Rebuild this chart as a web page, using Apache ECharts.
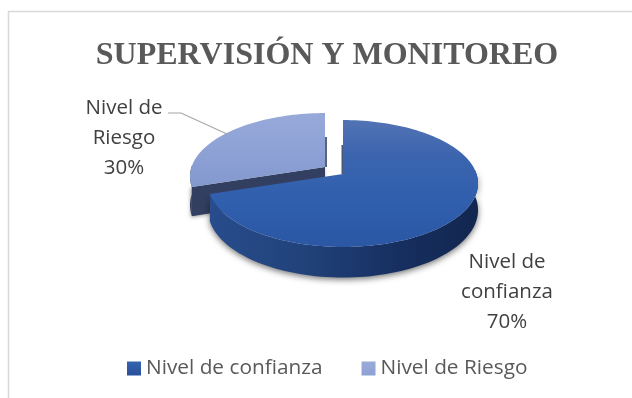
<!DOCTYPE html>
<html>
<head>
<meta charset="utf-8">
<style>html,body{margin:0;padding:0;background:#fff}#c{width:632px;height:398px}</style>
<script src="https://cdn.jsdelivr.net/npm/echarts@6/dist/echarts.min.js"></script>
</head>
<body>
<div id="c"></div>
<script>
const titleText = 'SUPERVISIÓN Y MONITOREO';
const categories = ['Nivel de confianza', 'Nivel de Riesgo'];
const shares = [70, 30];
const labelLines = [['Nivel de', 'confianza'], ['Nivel de', 'Riesgo']];

// layout of the tilted disc
const disc = {rx: 133.5, ry: 62, persp: 0.15, depth: 26};
const apex = [[343, 174], [325, 167]];
const labelPos = [[507, 262], [124, 108]];
const lineH = 30;
const total = shares.reduce((a, b) => a + b, 0);

function project(i, deg, r) {
  const t = deg * Math.PI / 180, u = r * Math.sin(t), v = -r * Math.cos(t), w = 1 - disc.persp * v;
  return {x: apex[i][0] + disc.rx * u / w, y: apex[i][1] + disc.ry * v / w, d: disc.depth / w};
}
function arc(i, a, b) {
  const out = [], n = Math.max(2, Math.ceil(Math.abs(b - a) / 2));
  for (let k = 0; k <= n; k++) out.push(project(i, a + (b - a) * k / n, 1));
  return out;
}
const hGrad = s => ({type: 'linear', x: 0, y: 0, x2: 1, y2: 0, colorStops: s});
const vGrad = s => ({type: 'linear', x: 0, y: 0, x2: 0, y2: 1, colorStops: s});
const topFill = [
  vGrad([{offset: 0, color: '#5273b4'}, {offset: .3, color: '#3a64ae'}, {offset: .65, color: '#305fae'}, {offset: 1, color: '#2b57a4'}]),
  vGrad([{offset: 0, color: '#98a9d9'}, {offset: .5, color: '#8ea2d6'}, {offset: 1, color: '#8398cd'}])
];
const wallFill = [
  hGrad([{offset: 0, color: '#284c8c'}, {offset: .35, color: '#21427a'}, {offset: .7, color: '#172f60'}, {offset: 1, color: '#12264f'}]),
  '#333f60'
];
const legendColor = [
  vGrad([{offset: 0, color: '#3763ae'}, {offset: 1, color: '#27509c'}]),
  vGrad([{offset: 0, color: '#9aabd9'}, {offset: 1, color: '#8da1d4'}])
];

function renderSlice(params, api) {
  const i = params.seriesIndex;
  const before = shares.slice(0, i).reduce((a, b) => a + b, 0);
  const a0 = before / total * 360, a1 = a0 + api.value(0) / total * 360;
  const top = arc(i, a0, a1);
  const c = project(i, 0, 0);
  const children = [];
  const poly = (points, fill, extra) => children.push(Object.assign({type: 'polygon', shape: {points}, style: Object.assign({fill}, extra || {})}));
  const P = p => [p.x, p.y], D = p => [p.x, p.y + p.d + (i ? 2 : 0)];
  if (i === 0) {
    const w = arc(i, 86, a1);
    poly(w.map(D).concat(w.slice().reverse().map(P)), wallFill[0],
      {shadowBlur: 6, shadowColor: 'rgba(0,0,0,.55)', shadowOffsetY: 2});
    // rear cut face seen in the gap
    const e = project(i, a0, 1);
    poly([[c.x - 1.5, e.y + 25], [c.x, e.y + 25], [c.x, c.y], [c.x - 1.5, c.y]], '#4a5878');
  } else {
    const e = top[0], w = arc(i, a0, 272);
    poly([P(c), D(c), D(e), P(e)], wallFill[1], {shadowBlur: 4, shadowColor: 'rgba(0,0,0,.4)', shadowOffsetX: -1, shadowOffsetY: 1});
    poly(w.map(D).concat(w.slice().reverse().map(P)), wallFill[1]);
    const q = project(i, a1, 1);
    poly([[c.x, c.y], [c.x + 2, c.y], [q.x + 2, q.y + 24], [q.x, q.y + 24]], '#5a6480');
  }
  poly(top.map(P).concat([P(c)]), topFill[i]);
  return {type: 'group', children};
}

function pieLabel(i) {
  const lines = labelLines[i].concat([Math.round(shares[i] / total * 100) + '%']);
  return lines.map((s, k) => ({
    type: 'text', silent: true, z: 20,
    style: {x: labelPos[i][0], y: labelPos[i][1] + k * lineH, text: s, fill: '#404040',
      font: '20.5px "Open Sans", sans-serif', align: 'center', verticalAlign: 'middle'}
  }));
}

const chart = echarts.init(document.getElementById('c'), null, {renderer: 'canvas'});
chart.setOption({
  animation: false,
  backgroundColor: '#fff',
  title: {
    text: titleText, left: 322, top: 35, textAlign: 'center',
    textStyle: {fontFamily: '"Liberation Serif", serif', fontWeight: 'bold', fontSize: 32, color: '#595959'}
  },
  legend: {
    data: categories, left: 122, top: 353, itemWidth: 14, itemHeight: 14, itemGap: 39,
    icon: 'rect', textStyle: {fontFamily: '"Open Sans", sans-serif', fontSize: 20.8, color: '#595959'}
  },
  series: categories.map((name, i) => ({
    type: 'custom', name, coordinateSystem: 'none', z: 3 - i,
    itemStyle: {color: legendColor[i]},
    data: [[shares[i]]],
    renderItem: renderSlice
  })),
  graphic: {elements: [
    {type: 'polyline', silent: true, shape: {points: [[8.5, 398], [8.5, 11.5], [632, 11.5]]}, style: {fill: 'none', stroke: '#d9d9d9', lineWidth: 1.5}},
    {type: 'polyline', silent: true, z: 10, shape: {points: [[168, 113], [181, 113], [227, 134]]}, style: {fill: 'none', stroke: '#a6a6a6', lineWidth: 1.2}},
    ...pieLabel(0), ...pieLabel(1)
  ]}
});
</script>
</body>
</html>
